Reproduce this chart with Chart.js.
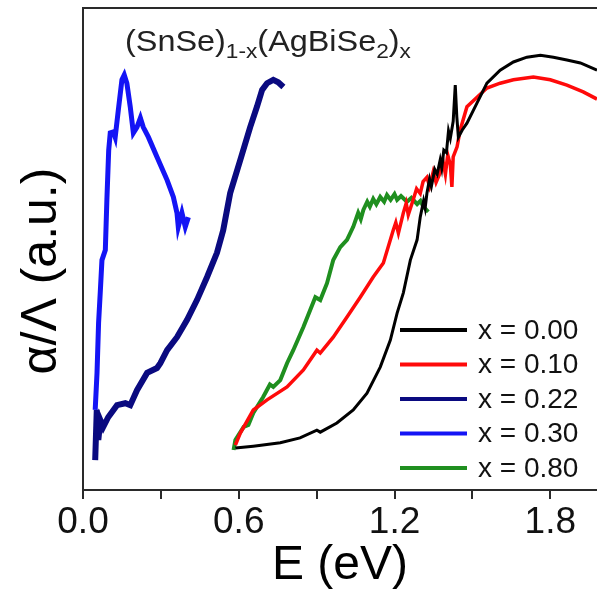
<!DOCTYPE html>
<html>
<head>
<meta charset="utf-8">
<script src="https://cdn.jsdelivr.net/npm/chart.js@4/dist/chart.umd.min.js"></script>
<style>
  html, body { margin: 0; padding: 0; background: #fff; }
  canvas { display: block; }
</style>
</head>
<body>
<canvas id="chart" width="597" height="595"></canvas>
<script>
// Данные (E в эВ, сигнал в условных единицах 0..100)
const seriesLabels = ['x = 0.00', 'x = 0.10', 'x = 0.22', 'x = 0.30', 'x = 0.80'];
const seriesColors = ['#000000', '#ff0a0a', '#0a0a80', '#1414f5', '#1f8f1f'];
const seriesWidths = [3, 3.5, 6, 5, 4];

const xTicks = [0, 0.3, 0.6, 0.9, 1.2, 1.5, 1.8];

// x = 0.00
const eBlack = [0.587, 0.656, 0.760, 0.836, 0.901, 0.914, 0.978, 1.041, 1.094, 1.145, 1.184, 1.210, 1.234, 1.261, 1.287, 1.299, 1.312, 1.318, 1.325, 1.335, 1.342, 1.355, 1.364, 1.376, 1.382, 1.390, 1.400, 1.408, 1.415, 1.426, 1.434, 1.440, 1.446, 1.461, 1.479, 1.518, 1.556, 1.607, 1.658, 1.710, 1.762, 1.812, 1.864, 1.916, 1.980];
const aBlack = [8.7, 9.1, 9.8, 10.8, 12.4, 12.0, 13.9, 16.6, 20.1, 25.5, 31.1, 36.7, 40.9, 47.7, 51.9, 56.6, 60.0, 58.5, 61.6, 64.5, 63.0, 66.5, 65.5, 68.5, 66.8, 70.5, 70.0, 74.5, 73.0, 76.5, 84.0, 77.4, 73.2, 74.7, 76.1, 80.3, 84.4, 87.1, 88.8, 89.8, 90.2, 89.8, 89.2, 88.6, 87.1];

// x = 0.10
const eRed = [0.587, 0.606, 0.656, 0.709, 0.786, 0.849, 0.901, 0.914, 0.964, 1.017, 1.068, 1.118, 1.157, 1.195, 1.205, 1.215, 1.234, 1.245, 1.253, 1.272, 1.285, 1.299, 1.310, 1.325, 1.335, 1.349, 1.360, 1.376, 1.386, 1.396, 1.405, 1.415, 1.421, 1.426, 1.441, 1.453, 1.479, 1.518, 1.556, 1.607, 1.658, 1.735, 1.800, 1.864, 1.927, 1.980];
const aRed = [9.3, 11.8, 16.6, 18.7, 21.4, 24.9, 29.0, 28.4, 31.7, 35.9, 40.0, 44.2, 47.1, 53.9, 55.5, 53.3, 57.5, 59.5, 57.1, 60.2, 62.5, 61.5, 64.0, 64.9, 63.0, 66.0, 63.8, 65.8, 68.5, 65.5, 69.5, 67.5, 62.9, 69.1, 71.2, 74.7, 79.5, 81.5, 83.4, 84.4, 85.1, 85.7, 85.1, 84.0, 82.6, 81.1];

// x = 0.22
const eNavy = [0.047, 0.053, 0.059, 0.067, 0.078, 0.097, 0.131, 0.163, 0.182, 0.208, 0.247, 0.285, 0.298, 0.324, 0.362, 0.401, 0.439, 0.478, 0.516, 0.540, 0.567, 0.606, 0.644, 0.670, 0.690, 0.709, 0.733, 0.752, 0.772];
const aNavy = [6.2, 16.6, 10.4, 14.5, 13.1, 15.1, 17.6, 18.0, 17.6, 20.7, 24.3, 25.3, 26.3, 29.0, 31.7, 35.3, 39.4, 44.2, 49.2, 53.9, 61.6, 68.5, 75.3, 79.5, 83.0, 84.4, 85.1, 84.6, 83.6];

// x = 0.30
const eBlue = [0.047, 0.054, 0.060, 0.067, 0.073, 0.086, 0.092, 0.099, 0.105, 0.117, 0.124, 0.136, 0.150, 0.159, 0.169, 0.182, 0.194, 0.208, 0.221, 0.232, 0.252, 0.285, 0.324, 0.348, 0.362, 0.367, 0.381, 0.394, 0.406];
const aBlue = [16.6, 24.3, 34.6, 41.5, 47.7, 49.8, 60.2, 70.5, 74.1, 74.3, 73.2, 78.8, 85.1, 86.1, 84.4, 79.5, 74.1, 75.3, 77.2, 75.3, 73.2, 69.1, 64.3, 60.8, 57.5, 54.6, 57.5, 54.6, 56.6];

// x = 0.80
const eGreen = [0.580, 0.587, 0.619, 0.637, 0.656, 0.694, 0.720, 0.733, 0.760, 0.786, 0.810, 0.849, 0.895, 0.914, 0.940, 0.964, 0.991, 1.017, 1.041, 1.060, 1.070, 1.080, 1.095, 1.105, 1.118, 1.130, 1.145, 1.160, 1.171, 1.185, 1.200, 1.210, 1.225, 1.248, 1.265, 1.287, 1.300, 1.311, 1.330];
const aGreen = [8.3, 10.4, 13.1, 13.5, 16.0, 19.3, 21.9, 21.4, 22.8, 26.3, 29.0, 33.8, 40.0, 39.4, 42.9, 47.7, 50.4, 51.9, 54.6, 57.5, 56.2, 58.1, 59.8, 58.8, 60.4, 59.3, 60.8, 59.8, 61.2, 60.2, 61.4, 60.2, 61.0, 59.8, 60.6, 59.3, 60.0, 58.8, 57.7];

const energies = [eBlack, eRed, eNavy, eBlue, eGreen];
const signals  = [aBlack, aRed, aNavy, aBlue, aGreen];

const AXIS_COLOR = '#2a2a2a';
const FONT = "'Liberation Sans', Arial, sans-serif";

// Подпись состава в верхней части
const formulaPlugin = {
  id: 'formula',
  afterDraw(chart) {
    const ctx = chart.ctx;
    const parts = [
      ['(SnSe)', 0], ['1-x', 1], ['(AgBiSe', 0], ['2', 1], [')', 0], ['x', 1],
    ];
    let x = 0;
    const base = 51;
    ctx.save();
    ctx.translate(125, 0);
    ctx.scale(1.08, 1);
    ctx.fillStyle = '#222';
    ctx.textBaseline = 'alphabetic';
    ctx.textAlign = 'left';
    parts.forEach(([t, sub]) => {
      ctx.font = sub ? `21px ${FONT}` : `30px ${FONT}`;
      ctx.fillText(t, x, sub ? base + 7 : base);
      x += ctx.measureText(t).width;
    });
    ctx.restore();
  },
};

// Легенда внутри области графика
const legendPlugin = {
  id: 'insideLegend',
  afterDraw(chart) {
    const ctx = chart.ctx;
    ctx.save();
    ctx.font = `28px ${FONT}`;
    ctx.textBaseline = 'middle';
    ctx.textAlign = 'left';
    chart.data.datasets.forEach((ds, i) => {
      const y = 330 + i * 34.5;
      ctx.strokeStyle = ds.borderColor;
      ctx.lineWidth = 4;
      ctx.beginPath();
      ctx.moveTo(400, y);
      ctx.lineTo(467, y);
      ctx.stroke();
      ctx.fillStyle = '#111';
      ctx.fillText(ds.label, 478, y + 1);
    });
    ctx.restore();
  },
};

// Повёрнутая подпись оси Y
const yTitlePlugin = {
  id: 'yTitle',
  afterDraw(chart) {
    const ctx = chart.ctx;
    ctx.save();
    ctx.translate(56, 271);
    ctx.rotate(-Math.PI / 2);
    ctx.font = `50px ${FONT}`;
    ctx.fillStyle = '#000';
    ctx.textAlign = 'center';
    ctx.textBaseline = 'alphabetic';
    ctx.fillText('α/Λ (a.u.)', 0, 0);
    ctx.restore();
  },
};

const datasets = seriesLabels.map((label, i) => ({
  label,
  data: energies[i].map((e, k) => ({ x: e, y: signals[i][k] })),
  borderColor: seriesColors[i],
  backgroundColor: seriesColors[i],
  borderWidth: seriesWidths[i],
  pointRadius: 0,
  tension: 0,
  fill: false,
}));

new Chart(document.getElementById('chart'), {
  type: 'line',
  data: { datasets },
  options: {
    responsive: false,
    animation: false,
    devicePixelRatio: 1,
    layout: { padding: { top: 8, left: 0, right: 0, bottom: 0 } },
    plugins: { legend: { display: false }, tooltip: { enabled: false } },
    scales: {
      x: {
        type: 'linear',
        position: 'bottom',
        min: 0,
        max: 1.98,
        afterBuildTicks: (s) => { s.ticks = xTicks.map(v => ({ value: v })); },
        afterFit: (s) => { s.height = 105; },
        ticks: {
          color: '#111',
          font: { family: FONT, size: 37 },
          padding: 2,
          maxRotation: 0,
          autoSkip: false,
          callback: (v, i) => (i % 2 ? '' : v.toFixed(1)),
        },
        grid: {
          display: true,
          drawOnChartArea: false,
          drawTicks: true,
          tickLength: 9,
          lineWidth: 2,
          color: AXIS_COLOR,
        },
        border: { display: true, width: 2, color: AXIS_COLOR },
        title: {
          display: true,
          text: 'E (eV)',
          color: '#000',
          font: { family: FONT, size: 48 },
          padding: { top: 0, bottom: 0 },
        },
      },
      xTop: {
        type: 'linear',
        position: 'top',
        min: 0,
        max: 1.98,
        afterFit: (s) => { s.height = 0; },
        ticks: { display: false },
        grid: { display: false },
        border: { display: true, width: 2, color: AXIS_COLOR },
      },
      y: {
        type: 'linear',
        min: 0,
        max: 100,
        afterFit: (s) => { s.width = 83; },
        ticks: { display: false },
        grid: { display: false },
        border: { display: true, width: 2, color: AXIS_COLOR },
      },
    },
  },
  plugins: [formulaPlugin, legendPlugin, yTitlePlugin],
});
</script>
</body>
</html>
